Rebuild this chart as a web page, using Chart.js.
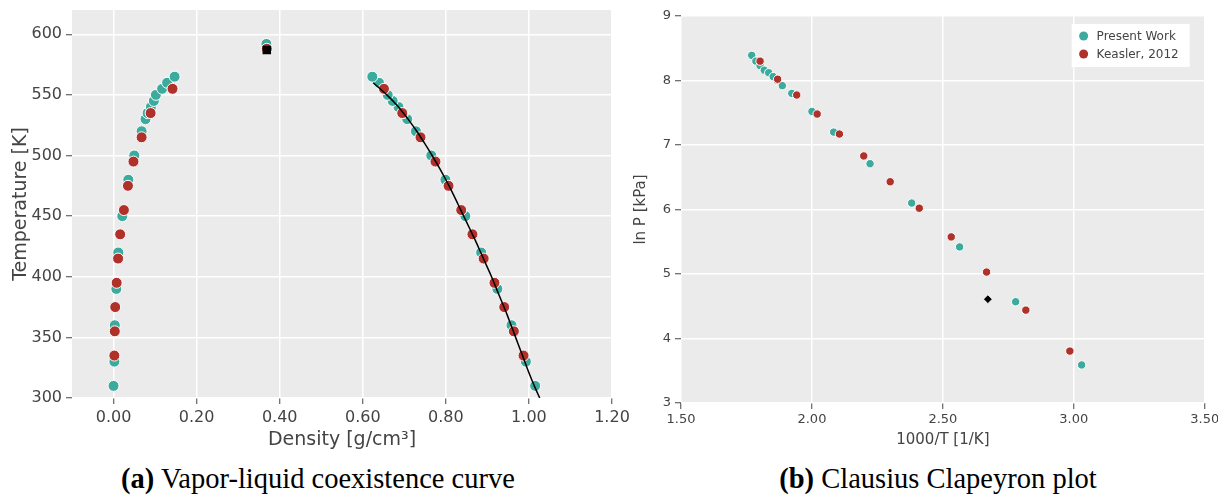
<!DOCTYPE html>
<html lang="en">
<head>
    <meta charset="UTF-8">
    <title>Coexistence curve and Clausius Clapeyron plot</title>
    <script src="https://cdn.jsdelivr.net/npm/chart.js"></script>
    <style>
        body {
            margin: 0;
            width: 1218px;
            height: 495px;
            background: #ffffff;
            position: relative;
            overflow: hidden;
        }
        .panel { position: absolute; top: 0; }
        .caption {
            position: absolute;
            top: 465px;
            font-family: "Liberation Serif", "Times New Roman", serif;
            font-size: 28.5px;
            line-height: 1;
            color: #000;
            white-space: nowrap;
            transform: translateX(-50%);
        }
    </style>
</head>
<body>
    <canvas id="coexChart" class="panel" width="640" height="460" style="left:0"></canvas>
    <canvas id="ccChart" class="panel" width="598" height="460" style="left:620px"></canvas>
    <div class="caption" style="left:318px"><b>(a)</b> Vapor-liquid coexistence curve</div>
    <div class="caption" style="left:938px"><b>(b)</b> Clausius Clapeyron plot</div>

    <script>
        // ---- (a) vapor-liquid coexistence, Present Work ----
        const pwVaporT    = [310, 330, 360, 390, 420, 450, 480, 500, 520, 530, 535, 540, 545, 550, 555, 560, 565];
        const pwVaporRho  = [0.000, 0.002, 0.003, 0.0067, 0.0115, 0.021, 0.0356, 0.050, 0.0676, 0.077, 0.082, 0.090, 0.097, 0.102, 0.117, 0.129, 0.147];
        const pwLiquidT   = [310, 330, 360, 390, 420, 450, 480, 500, 520, 530, 535, 540, 545, 550, 555, 560, 565];
        const pwLiquidRho = [1.015, 0.9926, 0.958, 0.924, 0.885, 0.847, 0.799, 0.765, 0.728, 0.707, 0.697, 0.686, 0.672, 0.660, 0.650, 0.639, 0.623];
        const pwCritT = [592];
        const pwCritRho = [0.368];

        // ---- (a) Keasler, 2012 ----
        const kT          = [335, 355, 375, 395, 415, 435, 455, 475, 495, 515, 535, 555];
        const kVaporRho   = [0.002, 0.003, 0.004, 0.0075, 0.011, 0.016, 0.025, 0.0347, 0.048, 0.0676, 0.0893, 0.142];
        const kLiquidRho  = [0.987, 0.9637, 0.9405, 0.917, 0.891, 0.864, 0.837, 0.8065, 0.775, 0.739, 0.695, 0.651];
        const kCritT = [588];
        const kCritRho = [0.369];

        // experimental critical point and liquid density fit
        const expCritT = [587];
        const expCritRho = [0.369];
        const fitT   = [560, 550, 540, 530, 520, 510, 500, 490, 480, 470, 460, 450, 440, 430, 420, 410, 400, 390, 380, 370, 360, 350, 340, 330, 320, 310, 300];
        const fitRho = [0.625, 0.658, 0.686, 0.709, 0.730, 0.749, 0.767, 0.784, 0.800, 0.815, 0.829, 0.843, 0.857, 0.871, 0.884, 0.897, 0.910, 0.922, 0.934, 0.946, 0.957, 0.968, 0.979, 0.990, 1.001, 1.013, 1.026];

        // ---- (b) Clausius Clapeyron ----
        const pwInvT = [1.770, 1.786, 1.802, 1.818, 1.835, 1.852, 1.869, 1.887, 1.923, 2.000, 2.083, 2.222, 2.381, 2.564, 2.778, 3.030];
        const pwLnP  = [8.39, 8.30, 8.23, 8.16, 8.12, 8.06, 8.00, 7.92, 7.80, 7.52, 7.20, 6.71, 6.10, 5.42, 4.57, 3.59];
        const kInvT  = [1.802, 1.869, 1.942, 2.020, 2.105, 2.198, 2.299, 2.410, 2.532, 2.667, 2.817, 2.985];
        const kLnP   = [8.30, 8.02, 7.775, 7.48, 7.17, 6.83, 6.43, 6.02, 5.575, 5.03, 4.44, 3.805];
        const nbpInvT = [2.672];
        const nbpLnP  = [4.61];

        // tick labels
        const densityTicks = [0.0, 0.2, 0.4, 0.6, 0.8, 1.0, 1.2];
        const tempTicks = [300, 350, 400, 450, 500, 550, 600];
        const invTTicks = [1.5, 2.0, 2.5, 3.0, 3.5];
        const lnPTicks = [3, 4, 5, 6, 7, 8, 9];

        const TEAL = '#3cab9e';
        const RED = '#b0302a';
        const SANS = '"DejaVu Sans", Verdana, sans-serif';

        const pts = (xs, ys) => xs.map((x, i) => ({ x: x, y: ys[i] }));

        // grey plot background like the ggplot style
        const plotBg = {
            id: 'plotBg',
            beforeDraw(chart) {
                const { ctx, chartArea: a } = chart;
                ctx.save();
                ctx.fillStyle = '#ebebeb';
                ctx.fillRect(a.left, a.top, a.right - a.left, a.bottom - a.top);
                ctx.restore();
            }
        };

        // legend box inside the plot, top right; entries sorted by legendRank
        const innerLegend = {
            id: 'innerLegend',
            afterDatasetsDraw(chart) {
                const items = chart.data.datasets
                    .filter(d => d.legendText)
                    .sort((a, b) => a.legendRank - b.legendRank);
                if (!items.length) return;
                const { ctx, chartArea: a } = chart;
                ctx.save();
                ctx.font = '12px ' + SANS;
                const textW = Math.max(...items.map(d => ctx.measureText(d.legendText).width));
                const w = textW + 36, rowH = 18, h = items.length * rowH + 7;
                const x0 = a.right - 15 - w, y0 = a.top + 8;
                ctx.fillStyle = '#ffffff';
                ctx.fillRect(x0, y0, w, h);
                items.forEach((d, i) => {
                    const cy = y0 + 12 + i * rowH;
                    ctx.beginPath();
                    ctx.arc(x0 + 12, cy, 4.5, 0, Math.PI * 2);
                    ctx.fillStyle = d.backgroundColor;
                    ctx.fill();
                    ctx.fillStyle = '#444';
                    ctx.textBaseline = 'middle';
                    ctx.fillText(d.legendText, x0 + 25, cy + 1);
                });
                ctx.restore();
            }
        };

        function axis(opts) {
            return {
                type: 'linear',
                min: opts.min,
                max: opts.max,
                afterBuildTicks: s => { s.ticks = opts.ticks.map(v => ({ value: v })); },
                afterFit: s => {
                    if (opts.width) s.width = opts.width;
                    if (opts.height) s.height = opts.height;
                    s.paddingLeft = 0; s.paddingRight = 0; s.paddingTop = 0; s.paddingBottom = 0;
                },
                ticks: {
                    callback: opts.fmt,
                    autoSkip: false,
                    maxRotation: 0,
                    padding: opts.tickPad,
                    color: '#444',
                    font: { family: SANS, size: opts.tickSize }
                },
                grid: {
                    color: '#ffffff',
                    lineWidth: 1.5,
                    tickColor: '#444',
                    tickLength: 6,
                    tickWidth: 1
                },
                border: { display: false },
                title: {
                    display: true,
                    text: opts.title,
                    color: '#444',
                    font: { family: SANS, size: opts.titleSize },
                    padding: opts.titlePad
                }
            };
        }

        const common = {
            responsive: false,
            animation: false,
            plugins: { legend: { display: false }, tooltip: { enabled: false } }
        };

        // datasets listed top-most first (Chart.js draws the first one last)
        new Chart(document.getElementById('coexChart'), {
            type: 'scatter',
            data: {
                datasets: [
                    {
                        data: pts(expCritRho, expCritT),
                        pointStyle: 'rect',
                        pointRadius: 6,
                        backgroundColor: '#000',
                        borderColor: '#000',
                        borderWidth: 0
                    },
                    {
                        type: 'line',
                        data: pts(fitRho, fitT),
                        showLine: true,
                        pointRadius: 0,
                        borderColor: '#000',
                        borderWidth: 1.5,
                        tension: 0.3,
                        fill: false
                    },
                    {
                        data: pts(kVaporRho, kT).concat(pts(kLiquidRho, kT), pts(kCritRho, kCritT)),
                        backgroundColor: RED,
                        borderColor: '#ffffff',
                        borderWidth: 1,
                        pointRadius: 5.5
                    },
                    {
                        data: pts(pwVaporRho, pwVaporT).concat(pts(pwLiquidRho, pwLiquidT), pts(pwCritRho, pwCritT)),
                        backgroundColor: TEAL,
                        borderColor: '#ffffff',
                        borderWidth: 1,
                        pointRadius: 5.5
                    }
                ]
            },
            options: Object.assign({}, common, {
                layout: { padding: { top: 10, right: 28, left: 0, bottom: 0 } },
                scales: {
                    x: axis({ min: -0.1, max: 1.2, ticks: densityTicks, fmt: v => v.toFixed(2), height: 62,
                              tickPad: 4, tickSize: 16, title: 'Density [g/cm\u00b3]', titleSize: 19,
                              titlePad: { top: 0, bottom: 9 } }),
                    y: axis({ min: 300, max: 620, ticks: tempTicks, fmt: v => String(v), width: 72,
                              tickPad: 4, tickSize: 16, title: 'Temperature [K]', titleSize: 19,
                              titlePad: { top: 10, bottom: 0 } })
                }
            }),
            plugins: [plotBg]
        });

        new Chart(document.getElementById('ccChart'), {
            type: 'scatter',
            data: {
                datasets: [
                    {
                        data: pts(nbpInvT, nbpLnP),
                        pointStyle: 'rectRot',
                        pointRadius: 4.5,
                        backgroundColor: '#000',
                        borderColor: '#ffffff',
                        borderWidth: 1
                    },
                    {
                        legendText: 'Keasler, 2012',
                        legendRank: 2,
                        data: pts(kInvT, kLnP),
                        backgroundColor: RED,
                        borderColor: '#ffffff',
                        borderWidth: 1,
                        pointRadius: 4.2
                    },
                    {
                        legendText: 'Present Work',
                        legendRank: 1,
                        data: pts(pwInvT, pwLnP),
                        backgroundColor: TEAL,
                        borderColor: '#ffffff',
                        borderWidth: 1,
                        pointRadius: 4.2
                    }
                ]
            },
            options: Object.assign({}, common, {
                layout: { padding: { top: 16, right: 13.3, left: 0, bottom: 0 } },
                scales: {
                    x: axis({ min: 1.5, max: 3.5, ticks: invTTicks, fmt: v => v.toFixed(2), height: 57,
                              tickPad: 3, tickSize: 13, title: '1000/T [1/K]', titleSize: 15,
                              titlePad: { top: 0, bottom: 11 } }),
                    y: axis({ min: 3, max: 9, ticks: lnPTicks, fmt: v => String(v), width: 61,
                              tickPad: 4, tickSize: 13, title: 'ln P [kPa]', titleSize: 15,
                              titlePad: { top: 12, bottom: 0 } })
                }
            }),
            plugins: [plotBg, innerLegend]
        });
    </script>
</body>
</html>
